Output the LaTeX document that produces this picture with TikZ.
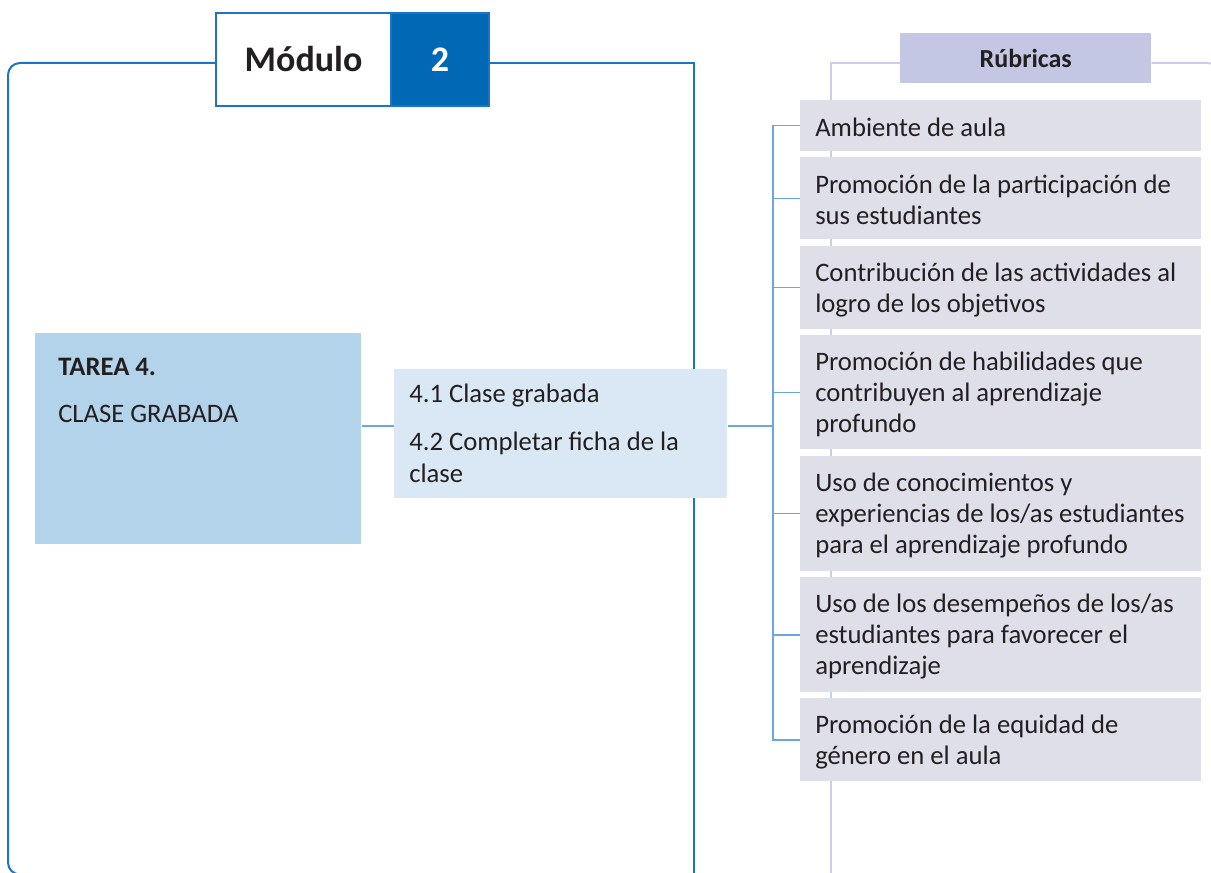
\documentclass[tikz,border=0pt]{standalone}
\usepackage{fontspec}
\setmainfont{Carlito}
\usetikzlibrary{backgrounds}
\definecolor{ink}{HTML}{231F20}
\definecolor{frameblue}{HTML}{1C75C4}
\definecolor{moddark}{HTML}{0068B5}
\definecolor{connblue}{HTML}{6AA7DC}
\definecolor{tareafill}{HTML}{B3D3EA}
\definecolor{subfill}{HTML}{DAE8F5}
\definecolor{rubfill}{HTML}{DEDFE9}
\definecolor{hdrfill}{HTML}{C3C7E4}
\definecolor{lavline}{HTML}{C9CDEA}
\tikzset{
  txt/.style={text=ink, font=\fontsize{20}{23.25}\selectfont, inner sep=0pt},
  rubbox/.style={fill=rubfill, anchor=north west, minimum width=300.75pt, inner sep=0pt},
  rubtxt/.style={txt, anchor=west, align=left, xshift=11.25pt, yshift=-1.5pt},
  frame/.style={draw=frameblue, line width=1.5pt},
  lav/.style={draw=lavline, line width=1.5pt},
  conn/.style={draw=connblue, line width=1.1pt},
  plainbox/.style={anchor=north west, inner sep=0pt},
}
\begin{document}
\begin{tikzpicture}[x=0.75pt,y=-0.75pt]
\useasboundingbox (0,0) rectangle (1211,873);
\clip (0,0) rectangle (1211,873);

% Module header
\node[plainbox, draw=frameblue, line width=1.5pt, fill=white, minimum width=131.25pt, minimum height=69.75pt,
      font=\fontsize{27}{30}\selectfont\bfseries, text=ink] (mod) at (215,12) {Módulo};
\node[plainbox, draw=frameblue, line width=1.5pt, fill=moddark, minimum width=73.5pt, minimum height=69.75pt,
      font=\fontsize{27}{30}\selectfont\bfseries, text=white] (num) at (390,12) {2};

% Rubricas header
\node[plainbox, fill=hdrfill, minimum width=188.25pt, minimum height=37.5pt,
      font=\fontsize{19.5}{22}\selectfont\bfseries, text=ink] (hdr) at (900,33) {Rúbricas};

% Task box
\node[plainbox, fill=tareafill, minimum width=244.5pt, minimum height=158.25pt] (tarea) at (35,333) {};
\node[txt, anchor=base west] (ta1) at (58,376) {\bfseries TAREA 4.};
\node[txt, anchor=base west] (ta2) at (58,423) {CLASE GRABADA};

% Sub-task box
\node[plainbox, fill=subfill, minimum width=249.75pt, minimum height=96.75pt] (sub) at (394,369) {};
\node[txt, anchor=base west] (s1) at (409,403) {4.1 Clase grabada};
\node[txt, anchor=base west] (s2) at (409,451) {4.2 Completar ficha de la};
\node[txt, anchor=base west] (s3) at (409,483) {clase};

% Rubric boxes
\node[rubbox, minimum height=38.25pt] (r1) at (800,100) {};
\node[rubbox, minimum height=61.5pt]  (r2) at (800,157) {};
\node[rubbox, minimum height=62.25pt] (r3) at (800,246) {};
\node[rubbox, minimum height=85.5pt]  (r4) at (800,335) {};
\node[rubbox, minimum height=86.25pt] (r5) at (800,456) {};
\node[rubbox, minimum height=86.25pt] (r6) at (800,577) {};
\node[rubbox, minimum height=62.25pt] (r7) at (800,698) {};

\node[rubtxt] (l1) at (r1.west) {Ambiente de aula};
\node[rubtxt] (l2) at (r2.west) {Promoción de la participación de\\sus estudiantes};
\node[rubtxt] (l3) at (r3.west) {Contribución de las actividades al\\logro de los objetivos};
\node[rubtxt] (l4) at (r4.west) {Promoción de habilidades que\\contribuyen al aprendizaje\\profundo};
\node[rubtxt] (l5) at (r5.west) {Uso de conocimientos y\\experiencias de los/as estudiantes\\para el aprendizaje profundo};
\node[rubtxt] (l6) at (r6.west) {Uso de los desempeños de los/as\\estudiantes para favorecer el\\aprendizaje};
\node[rubtxt] (l7) at (r7.west) {Promoción de la equidad de\\género en el aula};

% Connectors
\coordinate (hub) at (773,426);
\draw[conn] (tarea.east |- hub) -- (sub.west |- hub);
\draw[conn] (sub.east |- hub) -- (hub);
\draw[conn] (r1.west) -- (r1.west -| hub) -- (r7.west -| hub) -- (r7.west);
\foreach \k in {2,...,6} {\draw[conn] (r\k.west) -- (r\k.west -| hub);}

% Frames behind
\begin{scope}[on background layer]
  \clip (0,0) rectangle (1211,873);
  \draw[frame, rounded corners=9pt] (mod.west |- 0,63) -- (8,63) -- (8,874.5) -- (60,874.5);
  \draw[frame] (num.east |- 0,63) -- (694,63) -- (694,880);
  \draw[lav] (hdr.west |- 0,63) -- (831,63) -- (831,880);
  \draw[lav, rounded corners=9pt] (hdr.east |- 0,63) -- (1220,63) -- (1220,200);
\end{scope}
\end{tikzpicture}
\end{document}
